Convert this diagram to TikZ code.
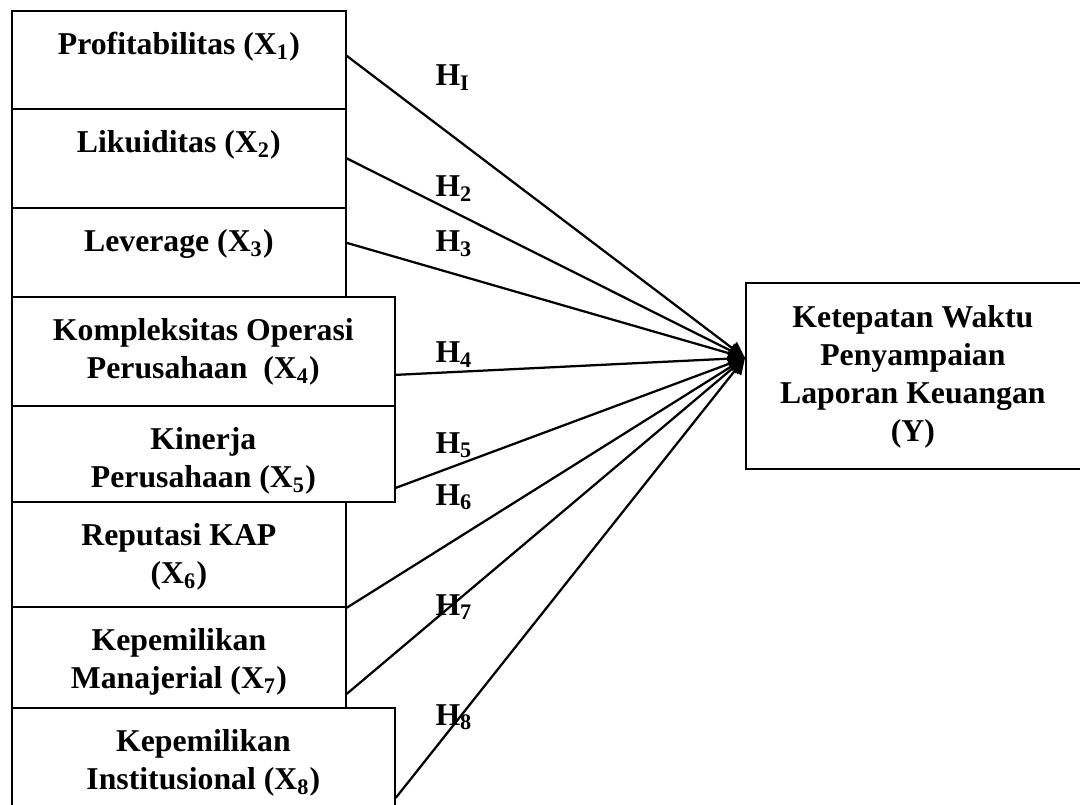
\documentclass[tikz,border=0pt]{standalone}
\usepackage{fontspec}
\setmainfont{Liberation Serif}
\usetikzlibrary{arrows.meta, positioning}

\begin{document}
\begin{tikzpicture}[
    x=0.4pt, y=-0.4pt,
    font=\fontsize{12.7pt}{15.2pt}\selectfont\bfseries,
    box/.style={draw, line width=0.7pt, rectangle, anchor=north west, inner sep=0pt},
    txt/.style={align=center, inner sep=0pt, anchor=north},
    hyp/.style={inner sep=0pt, anchor=base west},
    arr/.style={-{Triangle[length=6.5pt, width=6.2pt]}, line width=0.9pt}
  ]
  \useasboundingbox (0,0) rectangle (1080,805);

  \node[box, minimum width=133.6pt, minimum height=39.2pt] (b1) at (11,10) {};
  \node[box, minimum width=133.6pt, minimum height=39.6pt] (b2) at (11,108) {};
  \node[box, minimum width=133.6pt, minimum height=35.6pt] (b3) at (11,207) {};
  \node[box, minimum width=153.2pt, minimum height=43.6pt] (b4) at (11,296) {};
  \node[box, minimum width=153.2pt, minimum height=38.4pt] (b5) at (11,405) {};
  \node[box, minimum width=133.6pt, minimum height=42pt]   (b6) at (11,501) {};
  \node[box, minimum width=133.6pt, minimum height=40.4pt] (b7) at (11,606) {};
  \node[box, minimum width=153.2pt, minimum height=44pt]   (b8) at (11,707) {};
  \node[box, minimum width=160pt,   minimum height=74.4pt] (y)  at (745,282) {};

  \node[txt, below=8.8pt of b1.north] (t1) {Profitabilitas (X\textsubscript{1})};
  \node[txt, below=8.8pt of b2.north] (t2) {Likuiditas (X\textsubscript{2})};
  \node[txt, below=8.8pt of b3.north] (t3) {Leverage (X\textsubscript{3})};
  \node[txt, below=8.8pt of b4.north] (t4) {Kompleksitas Operasi\\Perusahaan\ \ (X\textsubscript{4})};
  \node[txt, below=8.8pt of b5.north] (t5) {Kinerja\\Perusahaan (X\textsubscript{5})};
  \node[txt, below=8.8pt of b6.north] (t6) {Reputasi KAP\\(X\textsubscript{6})};
  \node[txt, below=8.8pt of b7.north] (t7) {Kepemilikan\\Manajerial (X\textsubscript{7})};
  \node[txt, below=8.8pt of b8.north] (t8) {Kepemilikan\\Institusional (X\textsubscript{8})};
  \node[txt, below=9.2pt of y.north, xshift=-13.2pt] (ty) {Ketepatan Waktu\\Penyampaian\\Laporan Keuangan\\(Y)};

  \coordinate (tip) at ([yshift=7.2pt]y.west);

  \draw[arr] ([yshift=1.6pt]b1.east) -- (tip);
  \draw[arr] (b2.east) -- (tip);
  \draw[arr] ([yshift=3.8pt]b3.east) -- (tip);
  \draw[arr] ([yshift=-9.4pt]b4.east) -- (tip);
  \draw[arr] ([yshift=-13.6pt]b5.east) -- (tip);
  \draw[arr] (b6.south east) -- (tip);
  \draw[arr] ([yshift=-14.6pt]b7.east) -- (tip);
  \draw[arr] ([yshift=-14pt]b8.east) -- (tip);

  \node[hyp] (h1) at (435,86)  {H\textsubscript{I}};
  \node[hyp] (h2) at (435,197) {H\textsubscript{2}};
  \node[hyp] (h3) at (435,252) {H\textsubscript{3}};
  \node[hyp] (h4) at (435,363) {H\textsubscript{4}};
  \node[hyp] (h5) at (435,453) {H\textsubscript{5}};
  \node[hyp] (h6) at (435,505) {H\textsubscript{6}};
  \node[hyp] (h7) at (435,615) {H\textsubscript{7}};
  \node[hyp] (h8) at (435,725) {H\textsubscript{8}};
\end{tikzpicture}
\end{document}
